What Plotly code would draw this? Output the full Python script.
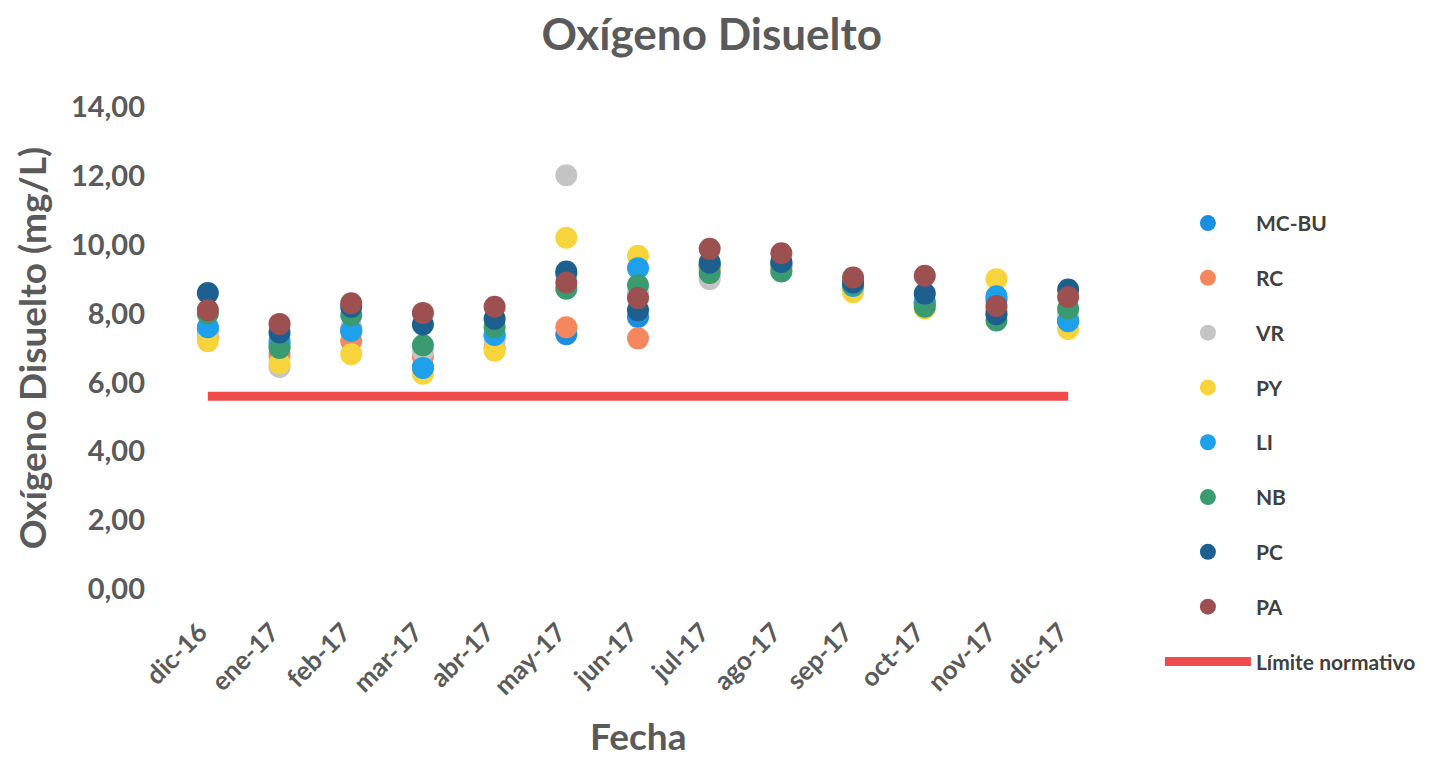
import plotly.graph_objects as go

# datos
fechas = ["dic-16", "ene-17", "feb-17", "mar-17", "abr-17", "may-17", "jun-17",
          "jul-17", "ago-17", "sep-17", "oct-17", "nov-17", "dic-17"]

mc_bu = [7.55, 7.10, 7.50, 6.45, 7.35, 7.40, 7.90, 9.40, 9.40, 8.80, 8.30, 8.40, 7.80]
rc = [7.30, 6.80, 7.20, 6.75, 7.00, 7.60, 7.28, 9.30, 9.35, 8.80, 8.30, 8.10, 7.80]
vr = [7.40, 6.45, 7.60, 6.90, 7.20, 12.02, 8.60, 9.00, 9.25, 8.75, 8.35, 8.00, 8.00]
py = [7.20, 6.55, 6.82, 6.25, 6.92, 10.20, 9.68, 9.30, 9.40, 8.62, 8.15, 9.00, 7.55]
li = [7.60, 7.20, 7.50, 6.42, 7.38, 9.15, 9.32, 9.40, 9.45, 8.80, 8.32, 8.50, 7.78]
nb = [8.00, 7.00, 7.95, 7.08, 7.60, 8.72, 8.82, 9.18, 9.22, 8.85, 8.20, 7.80, 8.15]
pc = [8.60, 7.45, 8.20, 7.68, 7.85, 9.22, 8.10, 9.48, 9.50, 8.90, 8.58, 7.98, 8.70]
pa = [8.10, 7.70, 8.30, 8.02, 8.20, 8.90, 8.45, 9.88, 9.75, 9.05, 9.10, 8.22, 8.48]

limite = [5.6, 5.6, 5.6, 5.6, 5.6, 5.6, 5.6, 5.6, 5.6, 5.6, 5.6, 5.6, 5.6]

series = [
    ("MC-BU", mc_bu, "#1c8ee0"),
    ("RC", rc, "#f5875e"),
    ("VR", vr, "#c4c4c4"),
    ("PY", py, "#f8d43c"),
    ("LI", li, "#1fa0ea"),
    ("NB", nb, "#3b9b70"),
    ("PC", pc, "#1d5f8f"),
    ("PA", pa, "#9c5050"),
]

gray = "#5a5a5a"
font_family = "Lato, 'Open Sans', sans-serif"

fig = go.Figure()

for i, (name, vals, color) in enumerate(series):
    fig.add_trace(go.Scatter(x=fechas, y=vals, name=name, mode="markers",
                             legendgroup="g%d" % i,
                             marker=dict(size=22, color=color)))

fig.add_trace(go.Scatter(x=fechas, y=limite, name="Límite normativo", mode="lines",
                         legendgroup="lim",
                         line=dict(color="#f04b4b", width=9)))

# the page has an 8px body margin, so the figure is a bit smaller than the window
fig.update_layout(
    width=1426, height=754,
    autosize=False,
    separators=",.",
    plot_bgcolor="white", paper_bgcolor="white",
    margin=dict(l=164, r=330, t=99, b=173),
    font=dict(family=font_family, color=gray),
    title=dict(text="Oxígeno Disuelto", x=0.4935, xanchor="center",
               y=0.965, yanchor="middle",
               font=dict(size=44, color=gray, family=font_family, weight="bold")),
    legend=dict(x=1.060, y=0.801, xanchor="left", yanchor="top",
                font=dict(size=21, color="#404040", family=font_family, weight="bold"),
                traceorder="grouped", tracegroupgap=24.5, itemwidth=86,
                bgcolor="rgba(0,0,0,0)"),
    showlegend=True,
)

# x axis title placed as an annotation so it can sit lower than the margin allows
fig.add_annotation(text="Fecha", x=0.5, y=-0.304, xref="paper", yref="paper",
                   xanchor="center", yanchor="middle", showarrow=False, borderpad=0,
                   font=dict(size=37, color=gray, family=font_family, weight="bold"))

fig.update_xaxes(
    type="category",
    range=[-0.5, 12.5],
    automargin=False,
    showgrid=False, showline=False, zeroline=False,
    tickangle=-45,
    ticklabelstandoff=22,
    ticklabelshift=-8,
    tickfont=dict(size=26, color=gray, family=font_family, weight="bold"),
    ticks="",
)

fig.update_yaxes(
    range=[0, 14],
    dtick=2,
    tickformat=".2f",
    automargin=False,
    showgrid=False, showline=False, zeroline=False,
    tickfont=dict(size=29, color=gray, family=font_family, weight="bold"),
    ticks="",
    ticklabelstandoff=26,
    title=dict(text="Oxígeno Disuelto (mg/L)", standoff=12,
               font=dict(size=37, color=gray, family=font_family, weight="bold")),
)

fig.write_html("out.html")
